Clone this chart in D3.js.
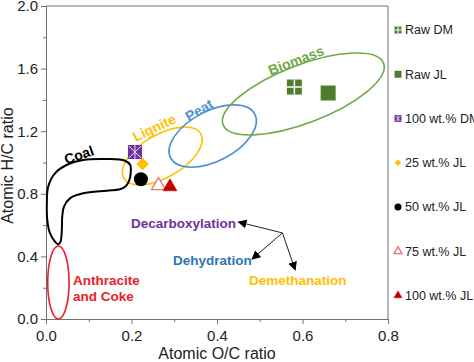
<!DOCTYPE html>
<html>
<head>
<meta charset="utf-8">
<script src="https://cdn.jsdelivr.net/npm/d3@7"></script>
<style>
  body { margin: 0; background: #fff; }
  svg { font-family: "Liberation Sans", Arial, sans-serif; }
</style>
</head>
<body>
<div id="chart"></div>
<script>
// samples (atomic O/C and H/C)
const seriesNames = ["Raw DM", "Raw JL", "100 wt.% DM", "25 wt.% JL", "50 wt.% JL", "75 wt.% JL", "100 wt.% JL"];
const ocRatio = [0.581, 0.660, 0.208, 0.226, 0.222, 0.263, 0.290];
const hcRatio = [1.482, 1.444, 1.067, 0.990, 0.893, 0.852, 0.845];

// fuel regions drawn as ellipses (centre, semi-axes in axis units, tilt)
const regionNames = ["Anthracite", "Lignite", "Peat", "Biomass"];
const regionCx = [0.029, 0.272, 0.390, 0.602];
const regionCy = [0.233, 1.042, 1.169, 1.438];
const regionA = [0.025, 0.104, 0.111, 0.201];
const regionB = [0.233, 0.137, 0.160, 0.185];
const regionTilt = [0, -30, -27.5, -21];

// coal band outline
const coalX = [0.197, 0.185, 0.142, 0.087, 0.048, 0.021, 0.005, 0.002, 0.003, 0.009, 0.021, 0.029, 0.034,
  0.037, 0.038, 0.042, 0.056, 0.087, 0.142, 0.173, 0.187, 0.195, 0.198];
const coalY = [0.984, 1.011, 1.022, 1.016, 0.984, 0.931, 0.845, 0.739, 0.633, 0.550, 0.494, 0.477, 0.494,
  0.569, 0.654, 0.718, 0.771, 0.803, 0.820, 0.829, 0.850, 0.888, 0.931];

// arrows: common start and three ends
const arrowFrom = [0.553, 0.550];
const arrowToX = [0.450, 0.482, 0.583];
const arrowToY = [0.620, 0.383, 0.313];

const xTicks = [0, 0.2, 0.4, 0.6, 0.8];
const xMinor = [0.1, 0.3, 0.5, 0.7];
const yTicks = [0, 0.4, 0.8, 1.2, 1.6, 2.0];
const yMinor = [0.2, 0.6, 1.0, 1.4, 1.8];

const width = 474, height = 362;
const margin = ({top: 6, right: 86, bottom: 43, left: 46});

const svg = d3.select("#chart").append("svg")
  .attr("width", width).attr("height", height);

let x = d3.scaleLinear().domain([0, 0.8]).range([margin.left, width - margin.right]);
let y = d3.scaleLinear().domain([0, 2]).range([height - margin.bottom, margin.top]);

const axisColor = "#707070";

// frame
svg.append("path")
  .attr("d", `M${x(0)},${y(2)}H${x(0.8)}V${y(0)}`)
  .attr("fill", "none").attr("stroke", axisColor);

function styleAxis(g) {
  g.select(".domain").attr("stroke", axisColor);
  g.selectAll(".tick line").attr("stroke", axisColor);
  g.selectAll("text").attr("fill", "#222").attr("font-size", 15)
    .attr("font-family", "Liberation Sans, Arial, sans-serif");
}

svg.append("g")
  .attr("transform", `translate(0,${y(0)})`)
  .call(d3.axisBottom(x).tickValues(xMinor).tickSize(3).tickFormat(""))
  .call(styleAxis);
svg.append("g")
  .attr("transform", `translate(0,${y(0)})`)
  .call(d3.axisBottom(x).tickValues(xTicks).tickSize(5).tickPadding(6).tickFormat(d3.format(".1f")))
  .call(styleAxis);

svg.append("g")
  .attr("transform", `translate(${x(0)},0)`)
  .call(d3.axisLeft(y).tickValues(yMinor).tickSize(3).tickFormat(""))
  .call(styleAxis);
svg.append("g")
  .attr("transform", `translate(${x(0)},0)`)
  .call(d3.axisLeft(y).tickValues(yTicks).tickSize(5).tickPadding(3).tickFormat(d3.format(".1f")))
  .call(styleAxis);

svg.append("text")
  .attr("x", x(0.4)).attr("y", 359)
  .attr("text-anchor", "middle").attr("font-size", 16).attr("fill", "#222")
  .text("Atomic O/C ratio");

svg.append("text")
  .attr("transform", `translate(13,${y(0.98)}) rotate(-90)`)
  .attr("text-anchor", "middle").attr("font-size", 16).attr("fill", "#222")
  .text("Atomic H/C ratio");

// regions
const regionColors = ["#e8202a", "#ffc000", "#4f8fd2", "#70a845"];
regionNames.forEach((name, i) => {
  svg.append("ellipse")
    .attr("transform", `translate(${x(regionCx[i])},${y(regionCy[i])}) rotate(${regionTilt[i]})`)
    .attr("rx", x(regionA[i]) - x(0))
    .attr("ry", y(0) - y(regionB[i]))
    .attr("fill", "none")
    .attr("stroke", regionColors[i])
    .attr("stroke-width", 1.6);
});

let coalLine = d3.line()
  .x(i => x(coalX[i]))
  .y(i => y(coalY[i]))
  .curve(d3.curveCatmullRomClosed.alpha(0.5));

svg.append("path")
  .attr("d", coalLine(d3.range(coalX.length)))
  .attr("fill", "none").attr("stroke", "#000").attr("stroke-width", 2);

// region labels
const boldLabel = (txt, px, py, rot, color, anchor) => {
  svg.append("text")
    .attr("transform", `translate(${x(px)},${y(py)}) rotate(${rot})`)
    .attr("text-anchor", anchor || "middle")
    .attr("dy", anchor ? 0 : "0.35em")
    .attr("font-size", 14).attr("font-weight", "bold").attr("fill", color)
    .text(txt);
};
boldLabel("Coal", 0.077, 1.048, -19, "#000");
boldLabel("Lignite", 0.253, 1.222, -25, "#ffc000");
boldLabel("Peat", 0.358, 1.335, -30, "#4f8fd2");
boldLabel("Biomass", 0.585, 1.652, -21, "#70a845");

const smallBold = (txt, px, py, color) => {
  svg.append("text")
    .attr("x", x(px)).attr("y", y(py))
    .attr("font-size", 13.5).attr("font-weight", "bold").attr("fill", color)
    .text(txt);
};
smallBold("Anthracite", 0.063, 0.217, "#e8202a");
smallBold("and Coke", 0.063, 0.115, "#e8202a");
smallBold("Decarboxylation", 0.199, 0.581, "#7030a0");
smallBold("Dehydration", 0.297, 0.345, "#2e75b6");
smallBold("Demethanation", 0.475, 0.217, "#ffc000");

// arrows
svg.append("defs").append("marker")
  .attr("id", "head")
  .attr("viewBox", "0 0 10 10").attr("refX", 9).attr("refY", 5)
  .attr("markerWidth", 9).attr("markerHeight", 9)
  .attr("markerUnits", "userSpaceOnUse")
  .attr("orient", "auto")
  .append("path").attr("d", "M0,0L10,5L0,10Z").attr("fill", "#000");

arrowToX.forEach((tx, i) => {
  svg.append("line")
    .attr("x1", x(arrowFrom[0])).attr("y1", y(arrowFrom[1]))
    .attr("x2", x(tx)).attr("y2", y(arrowToY[i]))
    .attr("stroke", "#222").attr("stroke-width", 1)
    .attr("marker-end", "url(#head)");
});

// markers
function drawMarker(g, i, s) {
  const green = "#4e7d2e";
  if (i === 0 || i === 1) {
    g.append("rect").attr("x", -s / 2).attr("y", -s / 2).attr("width", s).attr("height", s).attr("fill", green);
    if (i === 0) {
      g.append("path").attr("d", `M${-s / 2},0H${s / 2}M0,${-s / 2}V${s / 2}`)
        .attr("stroke", "#fff").attr("stroke-width", Math.max(1, s / 10));
    }
  } else if (i === 2) {
    g.append("rect").attr("x", -s / 2).attr("y", -s / 2).attr("width", s).attr("height", s).attr("fill", "#7030a0");
    const h = s / 2 - 1;
    g.append("path").attr("d", `M${-h},${-h}L${h},${h}M${h},${-h}L${-h},${h}M0,${-s / 2}V${s / 2}`)
      .attr("stroke", "#fff").attr("stroke-width", Math.max(0.8, s / 14)).attr("opacity", 0.85);
  } else if (i === 3) {
    g.append("path").attr("d", d3.symbol(d3.symbolSquare, s * s * 0.55)())
      .attr("transform", "rotate(45)").attr("fill", "#ffc000");
  } else if (i === 4) {
    g.append("circle").attr("r", s / 2).attr("fill", "#000");
  } else {
    const t = d3.symbol(d3.symbolTriangle, s * s * 0.433)();
    g.append("path").attr("d", t)
      .attr("fill", i === 5 ? "#fff" : "#c00000")
      .attr("stroke", i === 5 ? "#f07070" : "#c00000")
      .attr("stroke-width", i === 5 ? 1.3 : 0.5);
  }
}

const plotSizes = [15, 15, 14, 12, 14, 14, 14];
seriesNames.forEach((name, i) => {
  const g = svg.append("g")
    .attr("transform", `translate(${x(ocRatio[i])},${y(hcRatio[i])})`);
  drawMarker(g, i, plotSizes[i]);
});

// legend
const legendSizes = [7, 7, 7, 6, 7, 8, 8];
seriesNames.forEach((name, i) => {
  const ly = 30 + i * 44.25;
  const g = svg.append("g").attr("transform", `translate(398,${ly})`);
  drawMarker(g, i, legendSizes[i]);
  svg.append("text")
    .attr("x", 405).attr("y", ly).attr("dy", "0.35em")
    .attr("font-size", 12.5).attr("fill", "#222")
    .text(name);
});
</script>
</body>
</html>
